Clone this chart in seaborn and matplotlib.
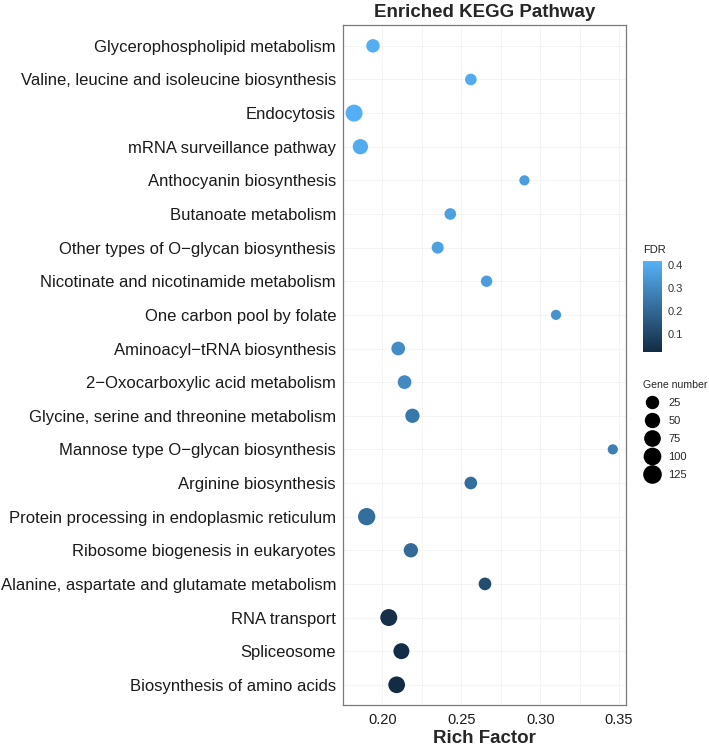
import numpy as np
import pandas as pd
import matplotlib
matplotlib.use('Agg')
import matplotlib.pyplot as plt
import seaborn as sns
from matplotlib.colors import LinearSegmentedColormap, Normalize
from matplotlib.lines import Line2D

# Dados
vias = [
    'Glycerophospholipid metabolism',
    'Valine, leucine and isoleucine biosynthesis',
    'Endocytosis',
    'mRNA surveillance pathway',
    'Anthocyanin biosynthesis',
    'Butanoate metabolism',
    'Other types of O\u2212glycan biosynthesis',
    'Nicotinate and nicotinamide metabolism',
    'One carbon pool by folate',
    'Aminoacyl\u2212tRNA biosynthesis',
    '2\u2212Oxocarboxylic acid metabolism',
    'Glycine, serine and threonine metabolism',
    'Mannose type O\u2212glycan biosynthesis',
    'Arginine biosynthesis',
    'Protein processing in endoplasmic reticulum',
    'Ribosome biogenesis in eukaryotes',
    'Alanine, aspartate and glutamate metabolism',
    'RNA transport',
    'Spliceosome',
    'Biosynthesis of amino acids',
]
rich_factor = [0.194, 0.256, 0.182, 0.186, 0.290, 0.243, 0.235, 0.266, 0.310, 0.210,
               0.214, 0.219, 0.346, 0.256, 0.190, 0.218, 0.265, 0.204, 0.212, 0.209]
fdr = [0.41, 0.40, 0.41, 0.40, 0.36, 0.37, 0.37, 0.36, 0.33, 0.31,
       0.30, 0.25, 0.27, 0.22, 0.22, 0.21, 0.12, 0.04, 0.03, 0.025]
gene_number = [43, 22, 119, 76, 15, 22, 25, 20, 15, 46,
               46, 56, 15, 32, 128, 56, 32, 119, 92, 111]

legenda_genes = [25, 50, 75, 100, 125]
fdr_ticks = [0.1, 0.2, 0.3, 0.4]
x_ticks = [0.20, 0.25, 0.30, 0.35]

df = pd.DataFrame({'via': vias, 'rich': rich_factor, 'fdr': fdr, 'genes': gene_number})

# escala de tamanho estilo ggplot (diâmetro ~ sqrt)
g_min, g_max = 14.5, 128.0
def diametro_pt(g):
    d_px = 9.7 + 7.6 * np.sqrt(max(g - g_min, 0) / (g_max - g_min))
    return d_px * 0.72

tamanhos = {g: diametro_pt(g) ** 2 for g in sorted(set(gene_number))}

cmap = LinearSegmentedColormap.from_list('kegg', ['#132B43', '#56B1F7'])
fdr_lim = (0.023, 0.419)

sns.set_style('white')
plt.rcParams['font.family'] = ['Liberation Sans', 'DejaVu Sans']

fig = plt.figure(figsize=(7.09, 7.46), dpi=100)
ax = fig.add_axes([0.4838, 0.055, 0.3992, 0.9115])

sns.scatterplot(data=df, x='rich', y='via', hue='fdr', size='genes',
                palette=cmap, hue_norm=fdr_lim, sizes=tamanhos,
                linewidth=0, alpha=1, legend=False, ax=ax, zorder=3)

ax.set_xlim(0.1753, 0.3544)
ax.set_ylim(len(vias) - 1 + 0.6, -0.62)
ax.set_xticks(x_ticks)
ax.set_xticklabels([f'{t:.2f}' for t in x_ticks])
ax.set_xticks([0.175, 0.225, 0.275, 0.325], minor=True)
ax.grid(True, which='both', color='#F3F3F3', linewidth=0.6, zorder=0)
ax.set_axisbelow(True)
for s in ax.spines.values():
    s.set_color('#7a7a7a')
    s.set_linewidth(0.9)
ax.tick_params(axis='both', which='major', length=3, color='#7a7a7a', width=0.8)
ax.tick_params(axis='x', which='minor', length=0)
ax.tick_params(axis='y', labelsize=12, labelcolor='#1a1a1a', pad=2)
ax.tick_params(axis='x', labelsize=10.5, labelcolor='#1a1a1a', pad=3)

ax.set_ylabel('')
ax.set_xlabel('Rich Factor', fontsize=13.5, fontweight='bold', labelpad=2)
ax.set_title('Enriched KEGG Pathway', fontsize=13.5, fontweight='bold', pad=6)

# barra de cores (FDR)
cax = fig.add_axes([643 / 709, 1 - 352 / 746, 19 / 709, 91 / 746])
sm = plt.cm.ScalarMappable(cmap=cmap, norm=Normalize(*fdr_lim))
cb = fig.colorbar(sm, cax=cax, ticks=fdr_ticks)
cb.outline.set_visible(False)
cb.ax.tick_params(length=3, color='white', width=0.6, labelsize=8, labelcolor='#333333', pad=1)
cb.ax.set_yticklabels([f'{t:.1f}' for t in fdr_ticks])
fig.text(643 / 709, 1 - 250 / 746, 'FDR', fontsize=8, color='#222222', va='center')

# legenda de tamanho (Gene number)
handles = [Line2D([], [], marker='o', linestyle='', markerfacecolor='black',
                  markeredgecolor='black', markersize=diametro_pt(g)) for g in legenda_genes]
leg = fig.legend(handles, [str(g) for g in legenda_genes], title='Gene number',
                 loc='upper left', bbox_to_anchor=(635 / 709, 1 - 372 / 746),
                 frameon=False, fontsize=8, title_fontsize=7.6,
                 labelspacing=0.72, handletextpad=0.7, borderpad=0.2, handlelength=1.6)
leg._legend_box.align = 'left'

fig.savefig('out.png', dpi=100)
